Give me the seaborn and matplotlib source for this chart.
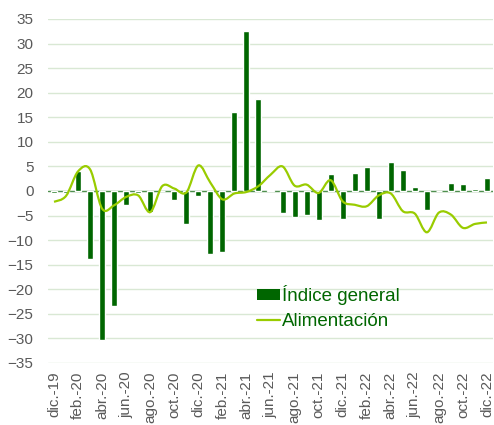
import numpy as np
import pandas as pd
import matplotlib
matplotlib.use("Agg")
import matplotlib.pyplot as plt
from matplotlib.path import Path
from matplotlib.patches import PathPatch, Patch
from matplotlib.lines import Line2D
import seaborn as sns

months = ["dic.-19", "ene.-20", "feb.-20", "mar.-20", "abr.-20", "may.-20", "jun.-20",
          "jul.-20", "ago.-20", "sep.-20", "oct.-20", "nov.-20", "dic.-20", "ene.-21",
          "feb.-21", "mar.-21", "abr.-21", "may.-21", "jun.-21", "jul.-21", "ago.-21",
          "sep.-21", "oct.-21", "nov.-21", "dic.-21", "ene.-22", "feb.-22", "mar.-22",
          "abr.-22", "may.-22", "jun.-22", "jul.-22", "ago.-22", "sep.-22", "oct.-22",
          "nov.-22", "dic.-22"]

indice_general = [-0.5, -0.5, 4.0, -13.9, -30.4, -23.5, -2.9, -0.4, -4.3, 0.1, -1.8,
                  -6.7, -1.0, -12.9, -12.4, 16.0, 32.6, 18.7, 0.2, -4.4, -5.2, -4.8,
                  -5.8, 3.5, -5.7, 3.7, 4.8, -5.6, 6.0, 4.3, 0.8, -3.9, 0.1, 1.7,
                  1.4, 0.5, 2.7]

alimentacion = [-2.2, -1.0, 4.0, 4.4, -3.6, -2.9, -1.2, -0.9, -4.3, 1.0, 0.5,
                -0.3, 5.2, 1.7, -1.7, -0.5, -0.2, 1.0, 3.3, 5.0, 1.1, 1.3,
                -0.4, 2.2, -2.1, -2.8, -3.1, -0.9, -0.5, -4.1, -4.6, -8.4, -4.4,
                -4.8, -7.5, -6.7, -6.4]

labels = ["Índice general", "Alimentación"]

bar_color = "#006600"
line_color = "#99cc00"
grid_color = "#d9e8d4"
tick_color = "#595959"

df = pd.DataFrame({"mes": months, "indice": indice_general, "alim": alimentacion})

sns.set_style("white")
plt.rcParams["font.family"] = ["Liberation Sans", "DejaVu Sans"]

fig = plt.figure(figsize=(4.94, 4.25), dpi=100)
ax = fig.add_axes([48 / 494, 1 - 363 / 425, 445 / 494, 344 / 425])

sns.barplot(data=df, x="mes", y="indice", color=bar_color, width=0.5,
            saturation=1, ax=ax, zorder=3)

# smoothed line, like Excel's smoothed series
x = np.arange(len(alimentacion), dtype=float)
y = np.array(alimentacion, dtype=float)
verts = [(x[0], y[0])]
codes = [Path.MOVETO]
n = len(x)
for i in range(n - 1):
    p0 = (x[max(i - 1, 0)], y[max(i - 1, 0)])
    p1 = (x[i], y[i])
    p2 = (x[i + 1], y[i + 1])
    p3 = (x[min(i + 2, n - 1)], y[min(i + 2, n - 1)])
    c1 = (p1[0] + (p2[0] - p0[0]) / 6, p1[1] + (p2[1] - p0[1]) / 6)
    c2 = (p2[0] - (p3[0] - p1[0]) / 6, p2[1] - (p3[1] - p1[1]) / 6)
    verts += [c1, c2, p2]
    codes += [Path.CURVE4] * 3
ax.add_patch(PathPatch(Path(verts, codes), facecolor="none", edgecolor=line_color,
                       lw=1.6, zorder=4))

ax.set_ylim(-35, 35)
ax.set_xlim(-0.5, 36.5)
ax.set_yticks(np.arange(-35, 36, 5))
ax.yaxis.grid(True, color=grid_color, lw=1)
ax.set_axisbelow(True)
ax.axhline(0, color="#4f8f4f", lw=1, zorder=2)

ax.set_xticks(np.arange(0, len(months), 2))
ax.set_xticklabels(months[::2], rotation=90)
ax.tick_params(axis="both", length=0, labelsize=11, labelcolor=tick_color)
ax.tick_params(axis="y", pad=10.5)
ax.tick_params(axis="x", pad=6)
ax.set_xlabel("")
ax.set_ylabel("")
for s in ax.spines.values():
    s.set_visible(False)

handles = [Patch(facecolor=bar_color, edgecolor="none"),
           Line2D([0], [0], color=line_color, lw=1.6)]
leg = ax.legend(handles, labels, loc="upper left", bbox_to_anchor=(257 / 494, 1 - 285 / 425),
                bbox_transform=fig.transFigure, frameon=False, fontsize=13.5,
                handlelength=1.2, handleheight=0.5, handletextpad=0.15,
                labelspacing=0.45, borderpad=0, borderaxespad=0)
for t in leg.get_texts():
    t.set_color(bar_color)

plt.savefig("out.png", dpi=100)
